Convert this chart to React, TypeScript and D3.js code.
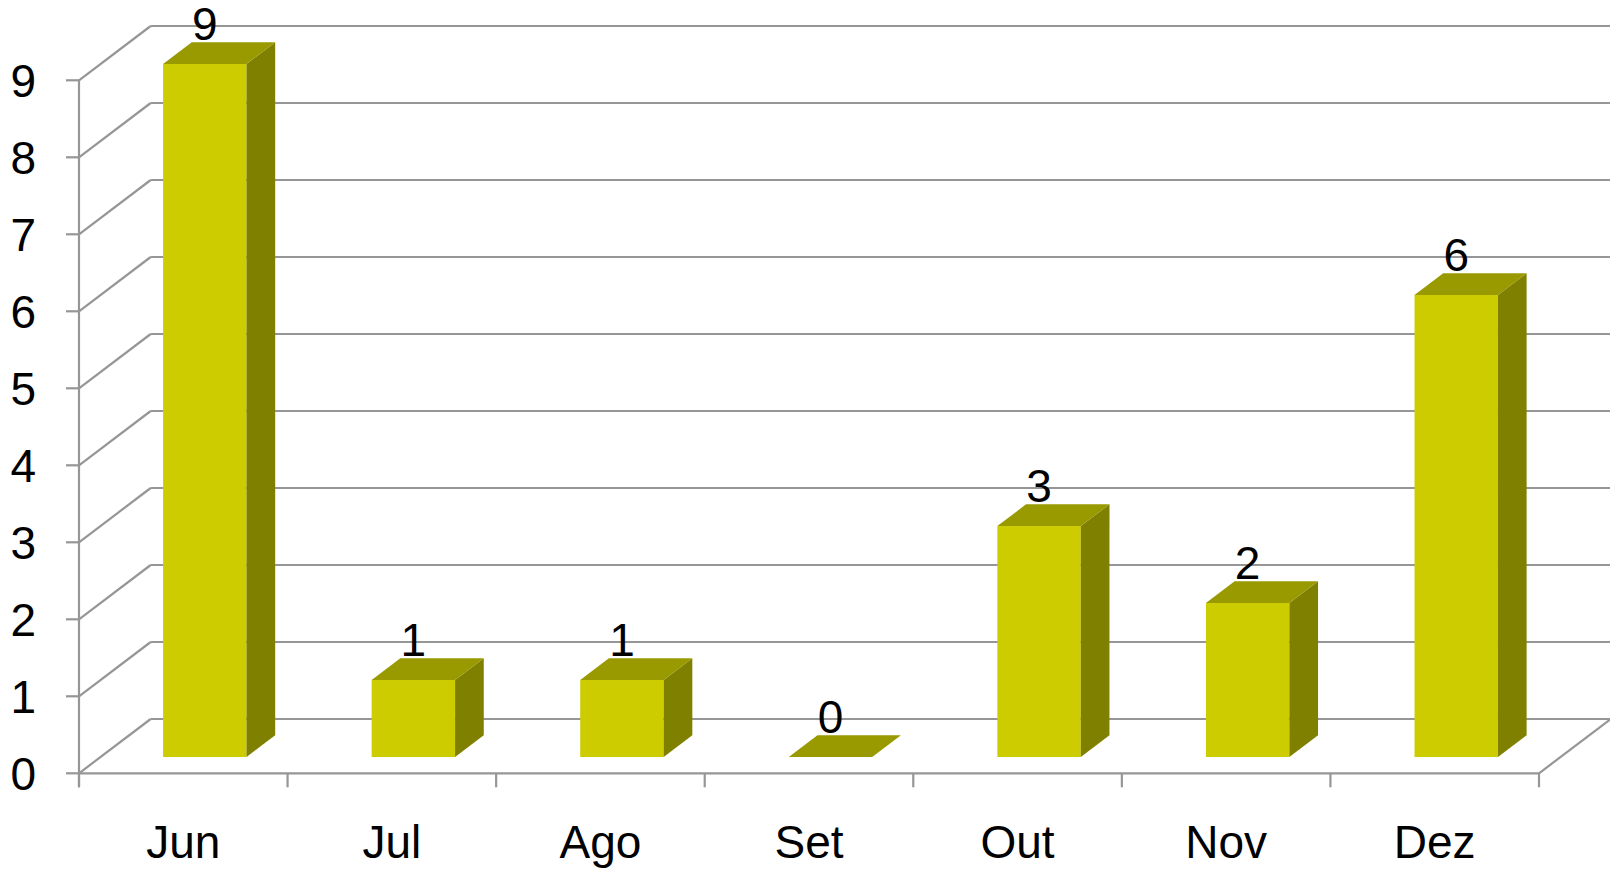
import React from "react";
import * as d3 from "d3";

const categories = ["Jun", "Jul", "Ago", "Set", "Out", "Nov", "Dez"];
const values = [9, 1, 1, 0, 3, 2, 6];
const yTicks = [0, 1, 2, 3, 4, 5, 6, 7, 8, 9];

const W = 1610;
const H = 869;
const X0 = 79;
const X1 = 1539;
const DX = 71.7;
const DY = -54.3;
const D0 = 0.3;
const D1 = 0.7;
const FONT = "'Liberation Sans', Arial, sans-serif";
const GRID = "#969696";
const FS = 46;

export default function App() {
  const x = d3.scaleBand<string>().domain(categories).range([X0, X1]).paddingInner(0).paddingOuter(0);
  const y = d3.scaleLinear().domain([0, 9]).range([773.3, 80.3]);
  const bw = x.bandwidth() * 0.4;
  const y0 = y(0);

  return (
    <svg width={W} height={H} style={{ position: "absolute", left: 0, top: 0, background: "#fff" }} fontFamily={FONT}>
      {yTicks.map((v) => (
        <g key={"g" + v}>
          <line x1={X0} y1={y(v)} x2={X0 + DX} y2={y(v) + DY} stroke={GRID} strokeWidth={2.2} />
          <line x1={X0 + DX} y1={y(v) + DY} x2={X1 + DX + 2} y2={y(v) + DY} stroke={GRID} strokeWidth={2.2} />
          <line x1={X0 - 13} y1={y(v)} x2={X0} y2={y(v)} stroke={GRID} strokeWidth={2.2} />
          <text x={36} y={y(v) + 16.5} fontSize={FS} textAnchor="end" fill="#000">{v}</text>
        </g>
      ))}
      <line x1={X0} y1={y(9)} x2={X0} y2={y0 + 14} stroke={GRID} strokeWidth={2.2} />
      <line x1={X0} y1={y0} x2={X1} y2={y0} stroke={GRID} strokeWidth={2.2} />
      <line x1={X1} y1={y0} x2={X1 + DX} y2={y0 + DY} stroke={GRID} strokeWidth={2.2} />
      {d3.range(categories.length + 1).map((i) => {
        const xi = X0 + i * x.step();
        return <line key={"t" + i} x1={xi} y1={y0} x2={xi} y2={y0 + 14} stroke={GRID} strokeWidth={2.2} />;
      })}
      {categories.map((c, i) => {
        const v = values[i];
        const cx = (x(c) as number) + x.bandwidth() / 2;
        const fl = cx - bw / 2 + DX * D0;
        const fr = cx + bw / 2 + DX * D0;
        const fb = y0 + DY * D0;
        const ft = y(v) + DY * D0;
        const ddx = DX * (D1 - D0);
        const ddy = DY * (D1 - D0);
        return (
          <g key={c}>
            {v > 0 && <rect x={fl} y={ft} width={fr - fl} height={fb - ft} fill="#cccc00" />}
            {v > 0 && (
              <polygon
                points={`${fr},${ft} ${fr + ddx},${ft + ddy} ${fr + ddx},${fb + ddy} ${fr},${fb}`}
                fill="#808000"
              />
            )}
            <polygon
              points={`${fl},${ft} ${fl + ddx},${ft + ddy} ${fr + ddx},${ft + ddy} ${fr},${ft}`}
              fill="#999900"
            />
            <text x={cx + DX * D0} y={ft + ddy - 2} fontSize={FS} textAnchor="middle" fill="#000">{v}</text>
          </g>
        );
      })}
      {categories.map((c) => (
        <text key={"l" + c} x={(x(c) as number) + x.bandwidth() / 2} y={858} fontSize={FS} textAnchor="middle" fill="#000">
          {c}
        </text>
      ))}
    </svg>
  );
}
